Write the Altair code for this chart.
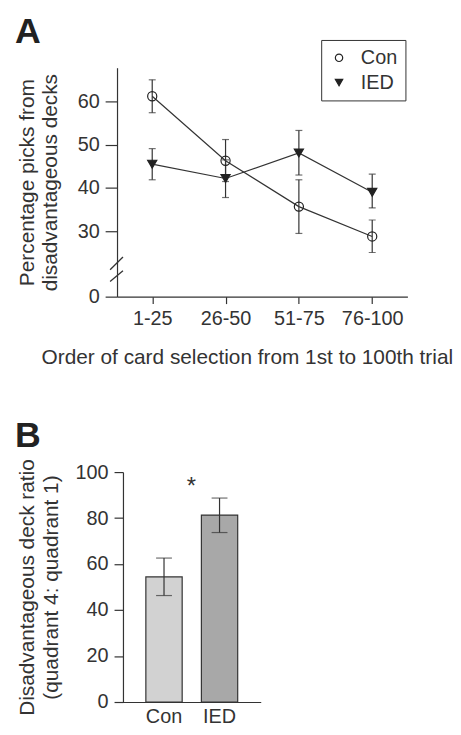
import altair as alt
import pandas as pd

# ---------------- data ----------------
blocks = ["1-25", "26-50", "51-75", "76-100"]
groups = ["Con", "IED"]
con_mean = [61.2, 46.3, 35.7, 28.8]
con_lo = [57.4, 41.5, 29.5, 25.1]
con_hi = [65.0, 51.2, 41.9, 32.6]
ied_mean = [45.5, 42.2, 48.1, 39.0]
ied_lo = [41.9, 37.8, 43.0, 35.4]
ied_hi = [49.1, 46.5, 53.3, 43.2]
y_ticks_a = [0, 30, 40, 50, 60]

ratio_mean = [54.4, 81.3]
ratio_lo = [46.3, 73.7]
ratio_hi = [62.6, 88.7]
y_ticks_b = [0, 20, 40, 60, 80, 100]
sig_label = ["*"]
sig_y = [94.8]
panel_labels = ["A", "B"]

# axis-break slashes (value coordinates of the two ends)
break_lo = [21.1, 13.7]
break_hi = [24.05, 20.9]

FONT = "Liberation Sans"
INK = "#333333"

rows = []
for g, m, lo, hi in [("Con", con_mean, con_lo, con_hi), ("IED", ied_mean, ied_lo, ied_hi)]:
    for b, mv, lv, hv in zip(blocks, m, lo, hi):
        rows.append({"block": b, "group": g, "mean": mv, "lo": lv, "hi": hv})
df_a = pd.DataFrame(rows)
df_break = pd.DataFrame({"blo": break_lo, "bhi": break_hi})
df_b = pd.DataFrame({"group": groups, "mean": ratio_mean, "lo": ratio_lo, "hi": ratio_hi})
df_sig = pd.DataFrame({"label": sig_label, "y": sig_y})


def panel_letter(letter):
    return alt.Chart(pd.DataFrame({"t": [letter]})).mark_text(
        fontSize=36, fontWeight="bold", color="#222222", align="left", baseline="alphabetic"
    ).encode(x=alt.value(-103), y=alt.value(-25), text="t:N")


# ---------------- panel A ----------------
WA, HA = 293, 231
yscale_a = alt.Scale(domain=[0, 20, 67.8], range=[HA, HA - 22.3, 0], nice=False, zero=False)
xscale_a = alt.Scale(type="point", padding=0.48)

xa = alt.X("block:N", sort=blocks, scale=xscale_a,
           axis=alt.Axis(title="Order of card selection from 1st to 100th trial",
                         labelAngle=0, tickSize=7, labelPadding=5, titlePadding=18,
                         titleX=131, titleAlign="center"))
ya = alt.Y("mean:Q", scale=yscale_a,
           axis=alt.Axis(values=y_ticks_a, title=["Percentage picks from", "disadvantageous decks"],
                         tickSize=12, labelPadding=6, titlePadding=17, grid=False,
                         titleLineHeight=23))

base_a = alt.Chart(df_a)
lines = base_a.mark_line(color=INK, strokeWidth=1.2).encode(x=xa, y=ya, detail="group:N")
err_rule = base_a.mark_rule(color=INK, strokeWidth=1.2).encode(
    x=alt.X("block:N", sort=blocks), y=alt.Y("lo:Q"), y2="hi:Q")
cap_lo = base_a.mark_tick(color=INK, size=7, thickness=1.2).encode(
    x=alt.X("block:N", sort=blocks), y=alt.Y("lo:Q"))
cap_hi = base_a.mark_tick(color=INK, size=7, thickness=1.2).encode(
    x=alt.X("block:N", sort=blocks), y=alt.Y("hi:Q"))
leg = alt.Legend(title=None, orient="none", legendX=206, legendY=-28, strokeColor=INK,
                 padding=8, labelFontSize=20, labelColor=INK, symbolSize=55,
                 labelOffset=12, rowPadding=5, symbolStrokeWidth=1.2)
points = base_a.mark_point(stroke="#222222", strokeWidth=1.2, opacity=1, size=85).encode(
    x=alt.X("block:N", sort=blocks),
    y=alt.Y("mean:Q"),
    shape=alt.Shape("group:N", scale=alt.Scale(domain=groups, range=["circle", "triangle-down"]), legend=leg),
    fill=alt.Fill("group:N", scale=alt.Scale(domain=groups, range=["transparent", "#222222"]), legend=leg),
)
slashes = alt.Chart(df_break).mark_rule(color=INK, strokeWidth=1.3).encode(
    x=alt.value(-7), x2=alt.value(6), y=alt.Y("blo:Q"), y2="bhi:Q")

panel_a = alt.layer(lines, err_rule, cap_lo, cap_hi, points, slashes,
                    panel_letter(panel_labels[0])).properties(width=WA, height=HA)

# ---------------- panel B ----------------
WB, HB = 145, 232
yscale_b = alt.Scale(domain=[0, 100], nice=False)
xscale_b = alt.Scale(paddingInner=0.346, paddingOuter=0.467, align=0.556)
xb = alt.X("group:N", sort=groups, scale=xscale_b,
           axis=alt.Axis(title=None, ticks=False, labelAngle=0, labelPadding=5))
yb = alt.Y("mean:Q", scale=yscale_b,
           axis=alt.Axis(values=y_ticks_b, title=["Disadvantageous deck ratio", "(quadrant 4: quadrant 1)"],
                         tickSize=9, labelPadding=6, titlePadding=14, offset=-6, grid=False,
                         titleLineHeight=24))
base_b = alt.Chart(df_b)
bars = base_b.mark_bar(stroke=INK, strokeWidth=1.2).encode(
    x=xb, y=yb,
    color=alt.Color("group:N", scale=alt.Scale(domain=groups, range=["#d2d2d2", "#a8a8a8"]), legend=None))
b_rule = base_b.mark_rule(color=INK, strokeWidth=1.2).encode(
    x=alt.X("group:N", sort=groups), y=alt.Y("lo:Q"), y2="hi:Q")
b_cap_lo = base_b.mark_tick(color=INK, size=16, thickness=1.2).encode(
    x=alt.X("group:N", sort=groups), y=alt.Y("lo:Q"))
b_cap_hi = base_b.mark_tick(color=INK, size=16, thickness=1.2).encode(
    x=alt.X("group:N", sort=groups), y=alt.Y("hi:Q"))
sig = alt.Chart(df_sig).mark_text(fontSize=24, color=INK, baseline="middle", dy=3).encode(
    x=alt.value(75), y=alt.Y("y:Q", scale=yscale_b), text="label:N")

panel_b = alt.layer(bars, b_rule, b_cap_lo, b_cap_hi, sig,
                    panel_letter(panel_labels[1])).properties(width=WB, height=HB)

chart = alt.vconcat(panel_a, panel_b, spacing=52).properties(
    padding={"left": 7, "right": 0, "top": 3, "bottom": 0}
).configure(font=FONT).configure_view(stroke=None).configure_axis(
    labelFontSize=20, titleFontSize=21, labelColor=INK, titleColor=INK,
    domainColor=INK, tickColor=INK, labelFont=FONT, titleFont=FONT, titleFontWeight="normal",
    domainWidth=1.2, tickWidth=1.2
)

chart.save("out.html", embed_options={"renderer": "svg", "actions": False})
